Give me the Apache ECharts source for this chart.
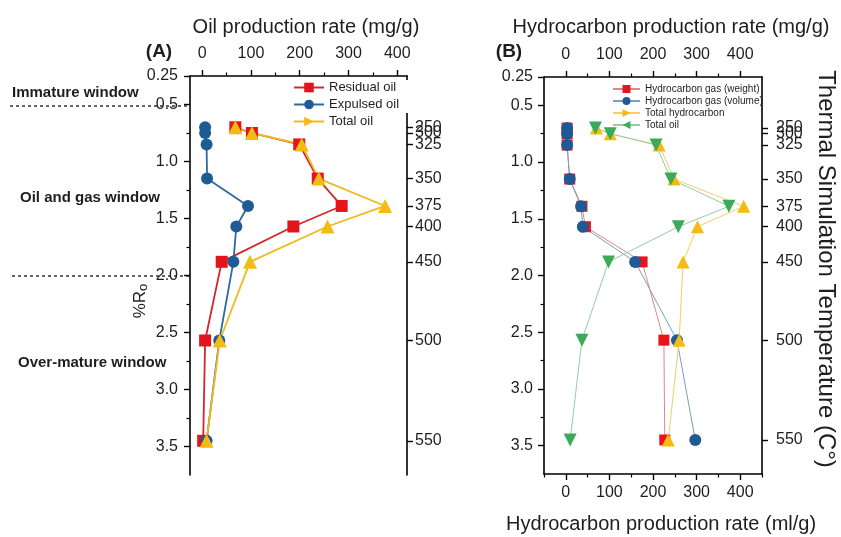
<!DOCTYPE html>
<html><head><meta charset="utf-8">
<script src="https://cdn.jsdelivr.net/npm/echarts@6/dist/echarts.min.js"></script>
<style>html,body{margin:0;padding:0;background:#fff}#c{width:841px;height:537px}</style>
</head><body><div id="c"></div>
<script>
// %Ro of each thermal-simulation sample
const ro = [0.70, 0.75, 0.85, 1.15, 1.39, 1.57, 1.88, 2.57, 3.45];
const tempLabels = [250, 300, 325, 350, 375, 400, 450, 500, 550];
const roTickLabels = [0.25, 0.5, 1.0, 1.5, 2.0, 2.5, 3.0, 3.5];
const roMinorTicks = [0.75, 1.25, 1.75, 2.25, 2.75, 3.25];
const rateTicks = [0, 100, 200, 300, 400];
const rateMinorA = [50, 150, 250, 350];
const rateMinorB = [-50, 50, 150, 250, 350, 450];

// Panel A (mg/g)
const residualOil = [68, 102, 199, 237, 286, 187, 40, 6, 2];
const expulsedOil = [6, 6, 9, 10, 94, 70, 64, 35, 9];
const totalOilA = [68, 102, 204, 239, 375, 257, 98, 36, 9];
// Panel B
const gasWeight = [3, 3, 3, 9, 37, 45, 175, 225, 227];
const gasVolume = [3, 3, 3, 9, 35, 39, 159, 255, 297];
const totalHC = [70, 102, 214, 248, 408, 302, 269, 260, 235];
const totalOilB = [68, 102, 207, 241, 374, 258, 98, 37, 10];

const FONT = "'Liberation Sans', Arial, sans-serif";
const TXT = '#1e1e1e';
const pair = arr => arr.map((v, i) => [v, ro[i]]);

function xMajor(grid, pos, min, max, showLabel) {
  return { type: 'value', gridIndex: grid, position: pos, min, max,
    axisLine: { show: true, onZero: false, lineStyle: { color: '#000', width: 1.6 } },
    axisTick: { show: true, inside: false, length: 6, customValues: rateTicks, lineStyle: { color: '#000', width: 1.4 } },
    axisLabel: { show: showLabel, customValues: rateTicks, fontSize: 16, fontFamily: FONT, color: TXT, margin: pos === 'top' ? 14 : 11 },
    splitLine: { show: false } };
}
function xMinor(grid, pos, min, max, vals) {
  return { type: 'value', gridIndex: grid, position: pos, min, max,
    axisLine: { show: false, onZero: false },
    axisTick: { show: true, inside: false, length: 3.5, customValues: vals, lineStyle: { color: '#000', width: 1.2 } },
    axisLabel: { show: false }, splitLine: { show: false } };
}
function yMajor(grid, margin) {
  return { type: 'value', gridIndex: grid, position: 'left', min: 0.25, max: 3.75, inverse: true,
    axisLine: { show: true, onZero: false, lineStyle: { color: '#000', width: 1.6 } },
    axisTick: { show: true, length: 6, customValues: roTickLabels, lineStyle: { color: '#000', width: 1.4 } },
    axisLabel: { customValues: roTickLabels, fontSize: 16, fontFamily: FONT, color: TXT, margin,
      formatter: v => (Math.abs(v - 0.25) < 1e-6 ? '0.25' : v.toFixed(1)) },
    splitLine: { show: false } };
}
function yMinor(grid) {
  return { type: 'value', gridIndex: grid, position: 'left', min: 0.25, max: 3.75, inverse: true,
    axisLine: { show: false, onZero: false },
    axisTick: { show: true, length: 3.5, customValues: roMinorTicks, lineStyle: { color: '#000', width: 1.2 } },
    axisLabel: { show: false }, splitLine: { show: false } };
}
// temperature axis; split into 3 label groups so that crowded labels are all drawn
function yTemp(grid, margin, group) {
  const labelVals = ro.filter((r, i) => i % 3 === group);
  return { type: 'value', gridIndex: grid, position: 'right', min: 0.25, max: 3.75, inverse: true,
    axisLine: { show: group === 0, onZero: false, lineStyle: { color: '#000', width: 1.6 } },
    axisTick: { show: group === 0, length: 6, customValues: ro, lineStyle: { color: '#000', width: 1.4 } },
    axisLabel: { customValues: labelVals, fontSize: 16, fontFamily: FONT, color: TXT, margin,
      formatter: v => { const i = ro.findIndex(r => Math.abs(r - v) < 1e-6); return i >= 0 ? String(tempLabels[i]) : ''; } },
    splitLine: { show: false } };
}
function ser(name, data, xi, yi, sym, size, color, lineColor, lw, rot) {
  return { name, type: 'line', xAxisIndex: xi, yAxisIndex: yi, data: pair(data),
    symbol: sym, symbolSize: size, symbolRotate: rot || 0, showSymbol: true,
    itemStyle: { color, borderWidth: 0 }, lineStyle: { color: lineColor, width: lw }, animation: false };
}

const chart = echarts.init(document.getElementById('c'), null, { renderer: 'canvas' });
chart.setOption({
  animation: false,
  backgroundColor: '#fff',
  textStyle: { fontFamily: FONT },
  grid: [
    { left: 190, top: 76, width: 217, height: 399 },
    { left: 544, top: 77, width: 218, height: 397 }
  ],
  xAxis: [
    xMajor(0, 'top', -25, 420, true),
    xMinor(0, 'top', -25, 420, rateMinorA),
    xMajor(1, 'top', -50, 450, true),
    xMinor(1, 'top', -50, 450, rateMinorA),
    xMajor(1, 'bottom', -50, 450, true),
    xMinor(1, 'bottom', -50, 450, rateMinorB)
  ],
  yAxis: [
    yMajor(0, 12), yMinor(0), yTemp(0, 8, 0), yTemp(0, 8, 1), yTemp(0, 8, 2),
    yMajor(1, 11), yMinor(1), yTemp(1, 14, 0), yTemp(1, 14, 1), yTemp(1, 14, 2)
  ],
  legend: [
    { left: 293, top: 81, orient: 'vertical', itemWidth: 30, itemHeight: 12, itemGap: 4,
      textStyle: { fontSize: 13, fontFamily: FONT, color: TXT }, padding: 0,
      data: ['Residual oil', 'Expulsed oil', { name: 'Total oil', symbolRotate: -90 }] },
    { left: 612, top: 84, orient: 'vertical', itemWidth: 27, itemHeight: 10, itemGap: 2,
      textStyle: { fontSize: 10, fontFamily: FONT, color: TXT }, padding: 0,
      formatter: n => n.replace(' (B)', ''),
      data: ['Hydrocarbon gas (weight)', 'Hydrocarbon gas (volume)',
        { name: 'Total hydrocarbon', symbolRotate: -90 }, { name: 'Total oil (B)', symbolRotate: 90 }] }
  ],
  series: [
    ser('Residual oil', residualOil, 0, 0, 'rect', 12, '#e3141c', '#d3262b', 1.8),
    ser('Expulsed oil', expulsedOil, 0, 0, 'circle', 12, '#1f5b94', '#2f69a0', 1.8),
    ser('Total oil', totalOilA, 0, 0, 'triangle', 14, '#f4bb12', '#f0b91e', 1.8),
    ser('Hydrocarbon gas (weight)', gasWeight, 2, 5, 'rect', 11, '#e8131c', '#d98a88', 1),
    ser('Hydrocarbon gas (volume)', gasVolume, 2, 5, 'circle', 12, '#1e5a96', '#7f9bbd', 1),
    ser('Total hydrocarbon', totalHC, 2, 5, 'triangle', 13, '#f5bb10', '#f2cf66', 1),
    ser('Total oil (B)', totalOilB, 2, 5, 'triangle', 13, '#3caa5a', '#94cda3', 1, 180)
  ],
  graphic: [
    { type: 'rect', z: 100, shape: { x: 404, y: 80, width: 7, height: 33 }, style: { fill: '#fff' } },
    { type: 'text', style: { text: 'Oil production rate (mg/g)', x: 306, y: 27, align: 'center', verticalAlign: 'middle', font: "20px " + FONT, fill: TXT } },
    { type: 'text', style: { text: 'Hydrocarbon production rate (mg/g)', x: 671, y: 27, align: 'center', verticalAlign: 'middle', font: "20px " + FONT, fill: TXT } },
    { type: 'text', style: { text: 'Hydrocarbon production rate (ml/g)', x: 661, y: 524, align: 'center', verticalAlign: 'middle', font: "20px " + FONT, fill: TXT } },
    { type: 'text', style: { text: '(A)', x: 159, y: 52, align: 'center', verticalAlign: 'middle', font: "bold 19px " + FONT, fill: TXT } },
    { type: 'text', style: { text: '(B)', x: 509, y: 52, align: 'center', verticalAlign: 'middle', font: "bold 19px " + FONT, fill: TXT } },
    { type: 'text', style: { text: 'Immature window', x: 12, y: 93, align: 'left', verticalAlign: 'middle', font: "bold 15px " + FONT, fill: TXT } },
    { type: 'text', style: { text: 'Oil and gas window', x: 20, y: 198, align: 'left', verticalAlign: 'middle', font: "bold 15px " + FONT, fill: TXT } },
    { type: 'text', style: { text: 'Over-mature window', x: 18, y: 363, align: 'left', verticalAlign: 'middle', font: "bold 15px " + FONT, fill: TXT } },
    { type: 'line', shape: { x1: 10, y1: 106, x2: 189, y2: 106 }, style: { stroke: '#333', lineWidth: 1.5, lineDash: [3, 3] } },
    { type: 'line', shape: { x1: 12, y1: 276, x2: 189, y2: 276 }, style: { stroke: '#333', lineWidth: 1.5, lineDash: [3, 3] } },
    { type: 'text', x: 140, y: 301, rotation: Math.PI / 2,
      style: { text: '{a|%R}{b|o}', align: 'center', verticalAlign: 'middle', fill: TXT,
        rich: { a: { fontSize: 17, fontFamily: FONT, fill: TXT }, b: { fontSize: 13, fontFamily: FONT, fill: TXT, verticalAlign: 'bottom', padding: [6, 0, 0, 0] } } } },
    { type: 'text', x: 826, y: 269, rotation: -Math.PI / 2,
      style: { text: 'Thermal Simulation Temperature (C°)', align: 'center', verticalAlign: 'middle', font: "24px " + FONT, fill: TXT } }
  ]
});
</script></body></html>
